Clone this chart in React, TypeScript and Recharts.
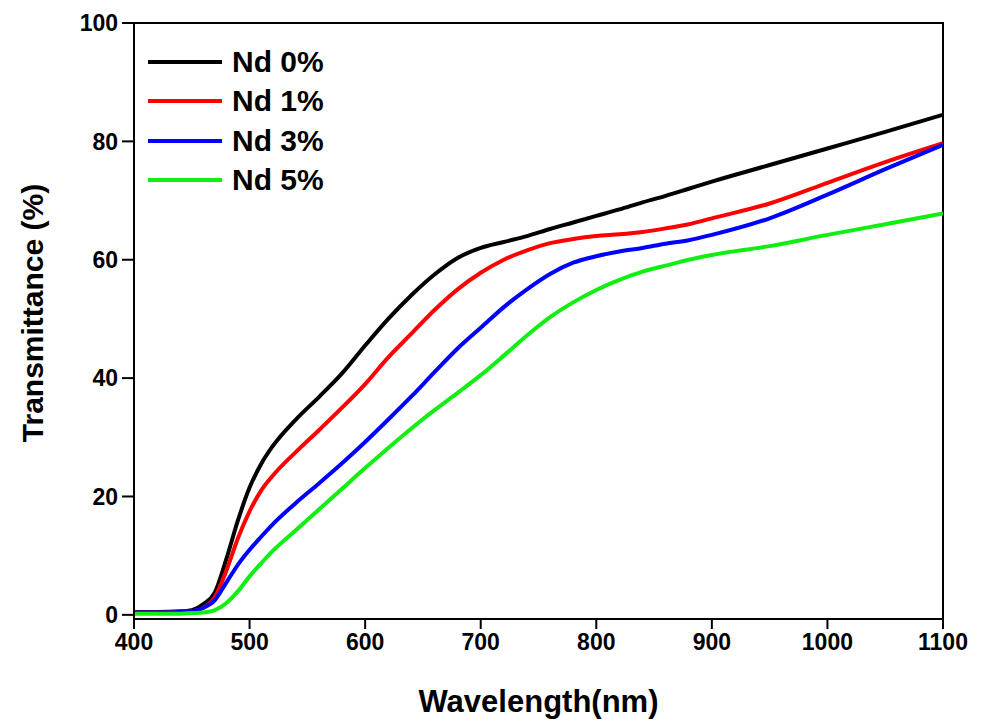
import { LineChart, Line, XAxis, YAxis, Legend, ReferenceArea, Label } from "recharts";

const wavelengths = [
  400, 420, 440, 450, 460, 470, 480, 490, 500, 510, 520, 540, 560, 580, 600, 620, 640, 660, 680,
  700, 720, 740, 760, 780, 800, 820, 840, 860, 880, 900, 950, 1000, 1050, 1100,
];

const nd0 = [
  0.5, 0.5, 0.6, 0.8, 1.8, 3.8, 9.5, 16, 21.5, 25.5, 28.5, 33, 36.8, 40.8, 45.5, 50, 54, 57.5, 60.3,
  62, 63, 64, 65.2, 66.3, 67.4, 68.5, 69.7, 70.8, 72, 73.2, 76, 78.8, 81.6, 84.5,
];
const nd1 = [
  0.4, 0.4, 0.5, 0.6, 1.2, 3, 7.5, 13, 17.5, 21, 23.5, 27.5, 31.2, 35, 39, 43.5, 47.5, 51.5, 55,
  57.8, 60, 61.6, 62.8, 63.5, 64, 64.3, 64.7, 65.3, 66, 67, 69.5, 73, 76.5, 79.7,
];
const nd3 = [
  0.4, 0.4, 0.5, 0.6, 1.2, 2.5, 5.5, 8.5, 11, 13.2, 15.3, 18.9, 22.2, 25.6, 29.2, 33, 36.9, 41, 45,
  48.5, 52, 55, 57.6, 59.5, 60.6, 61.4, 62, 62.7, 63.3, 64.2, 67, 71, 75.3, 79.4,
];
const nd5 = [
  0.2, 0.2, 0.2, 0.3, 0.4, 0.8, 2, 4, 6.5, 8.7, 10.8, 14.3, 17.8, 21.3, 24.8, 28.2, 31.5, 34.6, 37.5,
  40.5, 43.8, 47.2, 50.3, 52.8, 54.9, 56.6, 58, 59, 60, 60.8, 62.3, 64.2, 66, 67.8,
];

const xTicks = [400, 500, 600, 700, 800, 900, 1000, 1100];
const yTicks = [0, 20, 40, 60, 80, 100];

const series = [
  { key: "nd0", name: "Nd 0%", color: "#000000" },
  { key: "nd1", name: "Nd 1%", color: "#ff0000" },
  { key: "nd3", name: "Nd 3%", color: "#0000ff" },
  { key: "nd5", name: "Nd 5%", color: "#11ee11" },
];

const data = wavelengths.map((w, i) => ({
  w,
  nd0: nd0[i],
  nd1: nd1[i],
  nd3: nd3[i],
  nd5: nd5[i],
}));

const font = "'Liberation Sans', Arial, sans-serif";

function LegendBox() {
  return (
    <div style={{ fontFamily: font, fontWeight: "bold", fontSize: 30, color: "#000", lineHeight: 1 }}>
      {series.map((s) => (
        <div key={s.key} style={{ display: "flex", alignItems: "center", height: 39.5 }}>
          <div style={{ width: 74, height: 4, background: s.color, marginRight: 10 }} />
          <span>{s.name}</span>
        </div>
      ))}
    </div>
  );
}

export default function App() {
  return (
    <div style={{ position: "absolute", left: 0, top: 0, background: "#fff" }}>
      <LineChart
        width={988}
        height={721}
        data={data}
        margin={{ top: 23, right: 45, bottom: 0, left: 0 }}
      >
        <XAxis
          dataKey="w"
          type="number"
          domain={[400, 1100]}
          ticks={xTicks}
          allowDataOverflow
          height={102}
          stroke="#000"
          strokeWidth={2}
          tickSize={10}
          tickMargin={5}
          tick={{ fill: "#000", fontSize: 23, fontWeight: "bold", fontFamily: font }}
        >
          <Label
            content={({ viewBox }: any) => (
              <text
                x={viewBox.x + viewBox.width / 2}
                y={712}
                textAnchor="middle"
                style={{ fontFamily: font, fontWeight: "bold", fontSize: 31 }}
                fill="#000"
              >
                Wavelength(nm)
              </text>
            )}
          />
        </XAxis>
        <YAxis
          type="number"
          domain={[-0.7, 100]}
          ticks={yTicks}
          allowDataOverflow
          width={134}
          stroke="#000"
          strokeWidth={2}
          tickSize={12}
          tickMargin={4}
          tick={{ fill: "#000", fontSize: 23, fontWeight: "bold", fontFamily: font }}
        >
          <Label
            content={({ viewBox }: any) => {
              const cx = 32;
              const cy = viewBox.y + viewBox.height / 2 - 8;
              return (
                <text
                  x={cx}
                  y={cy}
                  transform={`rotate(-90, ${cx}, ${cy})`}
                  textAnchor="middle"
                  dominantBaseline="central"
                  style={{ fontFamily: font, fontWeight: "bold", fontSize: 30 }}
                  fill="#000"
                >
                  Transmittance (%)
                </text>
              );
            }}
          />
        </YAxis>
        <ReferenceArea
          x1={400}
          x2={1100}
          y1={-0.7}
          y2={100}
          fill="none"
          stroke="#000"
          strokeWidth={2}
          ifOverflow="visible"
        />
        <Legend
          layout="horizontal"
          verticalAlign="middle"
          align="center"
          wrapperStyle={{ left: 148, top: 42, width: 220 }}
          content={() => <LegendBox />}
        />
        {series.map((s) => (
          <Line
            key={s.key}
            type="monotone"
            dataKey={s.key}
            name={s.name}
            stroke={s.color}
            strokeWidth={4}
            dot={false}
            isAnimationActive={false}
          />
        ))}
      </LineChart>
    </div>
  );
}
